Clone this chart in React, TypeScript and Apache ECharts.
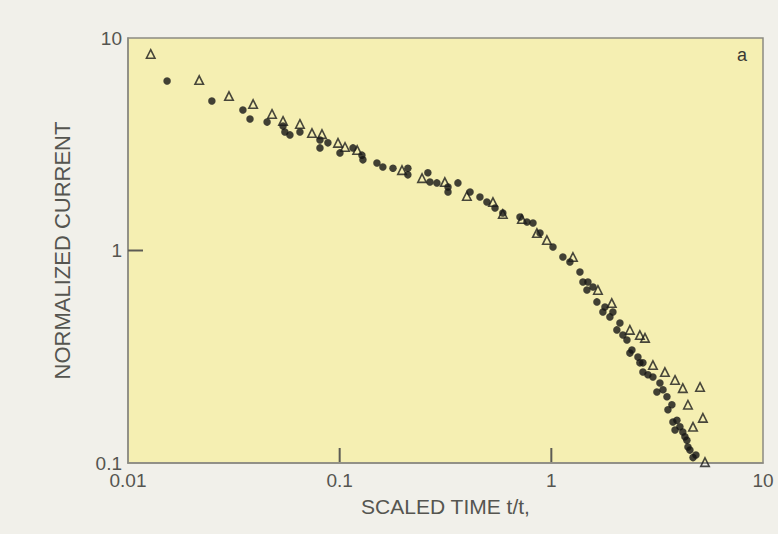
import React, { useEffect, useRef } from "react";
import * as echarts from "echarts";

// Open triangles
const triX = [0.0128, 0.0217, 0.0300, 0.0390, 0.0479, 0.0540, 0.0649, 0.0740, 0.0825, 0.0982, 0.106, 0.121, 0.197, 0.245, 0.314, 0.399, 0.530, 0.590, 0.726, 0.855, 0.953, 1.265, 1.66, 1.93, 2.35, 2.62, 2.77, 3.02, 3.44, 3.84, 4.18, 5.04, 4.42, 5.20, 4.67, 5.32];
const triY = [8.41, 6.34, 5.33, 4.89, 4.39, 4.07, 3.94, 3.57, 3.53, 3.21, 3.07, 2.97, 2.39, 2.19, 2.10, 1.805, 1.69, 1.485, 1.406, 1.208, 1.12, 0.932, 0.652, 0.566, 0.423, 0.400, 0.388, 0.289, 0.268, 0.246, 0.225, 0.228, 0.188, 0.163, 0.148, 0.101];

// Filled dots
const dotX = [0.0153, 0.0249, 0.0349, 0.0377, 0.0454, 0.0540, 0.0551, 0.0582, 0.0649, 0.0807, 0.0807, 0.0880, 0.1003, 0.1156, 0.1274, 0.1288, 0.150, 0.160, 0.1786, 0.210, 0.210, 0.261, 0.267, 0.288, 0.325, 0.325, 0.362, 0.413, 0.460, 0.496, 0.542, 0.590, 0.711, 0.767, 0.819, 0.884, 1.018, 1.134, 1.224, 1.365, 1.41, 1.489, 1.573, 1.473, 1.642, 1.792, 1.891, 1.954, 2.109, 2.178, 2.276, 2.403, 2.565, 2.708, 2.35, 2.62, 2.708, 3.02, 3.258, 3.37, 3.517, 3.555, 3.753, 3.92, 4.05, 4.277, 4.37, 4.42, 4.516, 4.67, 2.86, 3.153, 3.712, 4.18, 4.82, 3.84, 2.04, 1.752];
const dotY = [6.28, 5.05, 4.58, 4.16, 4.02, 3.85, 3.61, 3.50, 3.61, 3.31, 3.04, 3.21, 2.88, 3.04, 2.81, 2.67, 2.58, 2.47, 2.44, 2.44, 2.27, 2.32, 2.10, 2.08, 1.99, 1.885, 2.08, 1.885, 1.786, 1.69, 1.585, 1.50, 1.438, 1.362, 1.347, 1.208, 1.039, 0.932, 0.883, 0.792, 0.711, 0.711, 0.673, 0.652, 0.573, 0.542, 0.487, 0.514, 0.456, 0.400, 0.379, 0.340, 0.315, 0.296, 0.329, 0.296, 0.268, 0.254, 0.238, 0.221, 0.205, 0.178, 0.156, 0.159, 0.148, 0.133, 0.128, 0.119, 0.115, 0.106, 0.260, 0.216, 0.188, 0.140, 0.109, 0.143, 0.423, 0.514];

// Inner tick marks (the reference only marks these decades)
const xTicks = [0.1, 1];
const yTicks = [1];
const xMin = 0.01;
const xMax = 10;
const yMin = 0.1;
const yMax = 10;

const xTitle = "SCALED TIME t/t,";
const yTitle = "NORMALIZED CURRENT";
const panelLabel = "a";

const TEXT = "#555550";
const AXIS = "#8c8b82";
const TICK = "#5c5b54";
const FONT = "'Liberation Sans', Arial, Helvetica, sans-serif";
const TICK_LEN = 15;

export default function App() {
  const ref = useRef<HTMLDivElement>(null);
  useEffect(() => {
    document.body.style.margin = "0";
    const chart = echarts.init(ref.current!, null, { renderer: "svg" });
    const dots = dotX.map((x, i) => [x, dotY[i]]);
    const tris = triX.map((x, i) => [x, triY[i]]);
    chart.setOption({
      animation: false,
      backgroundColor: "#f1f0ea",
      textStyle: { fontFamily: FONT },
      grid: {
        left: 128,
        top: 38,
        right: 15,
        bottom: 71,
        show: true,
        backgroundColor: "#f5efb2",
        borderColor: AXIS,
        borderWidth: 1.5,
        containLabel: false,
        outerBoundsMode: "none",
      },
      xAxis: {
        type: "log",
        logBase: 10,
        min: xMin,
        max: xMax,
        name: xTitle,
        nameLocation: "middle",
        nameGap: 33,
        nameTextStyle: { color: TEXT, fontSize: 21, fontFamily: FONT },
        axisLine: { show: true, lineStyle: { color: AXIS, width: 1.5 } },
        axisTick: { show: false },
        minorTick: { show: false },
        splitLine: { show: false },
        axisLabel: { color: TEXT, fontSize: 19, margin: 8, fontFamily: FONT },
      },
      yAxis: {
        type: "log",
        logBase: 10,
        min: yMin,
        max: yMax,
        name: yTitle,
        nameLocation: "middle",
        nameGap: 55,
        nameRotate: 90,
        nameTextStyle: { color: TEXT, fontSize: 22, fontFamily: FONT },
        axisLine: { show: true, lineStyle: { color: AXIS, width: 1.5 } },
        axisTick: { show: false },
        minorTick: { show: false },
        splitLine: { show: false },
        axisLabel: { color: TEXT, fontSize: 19, margin: 6, fontFamily: FONT },
      },
      series: [
        {
          type: "scatter",
          data: dots,
          symbol: "circle",
          symbolSize: 7.5,
          z: 10,
          itemStyle: { color: "#141414" },
        },
        {
          type: "scatter",
          data: tris,
          symbol: "triangle",
          symbolSize: 8.5,
          z: 10,
          itemStyle: { color: "rgba(0,0,0,0)", borderColor: "#1c1c1c", borderWidth: 1.6 },
        },
      ],
    });

    // Tick marks placed through the chart's own scales
    const bottomY = chart.convertToPixel({ yAxisIndex: 0 }, yMin) as number;
    const leftX = chart.convertToPixel({ xAxisIndex: 0 }, xMin) as number;
    const lines: any[] = [];
    xTicks.forEach((v) => {
      const px = chart.convertToPixel({ xAxisIndex: 0 }, v) as number;
      lines.push({
        type: "line",
        shape: { x1: px, y1: bottomY - 1, x2: px, y2: bottomY - TICK_LEN },
        style: { stroke: TICK, lineWidth: 2 },
        z: 100,
        zlevel: 1,
      });
    });
    yTicks.forEach((v) => {
      const py = chart.convertToPixel({ yAxisIndex: 0 }, v) as number;
      lines.push({
        type: "line",
        shape: { x1: leftX, y1: py, x2: leftX + TICK_LEN, y2: py },
        style: { stroke: TICK, lineWidth: 2 },
        z: 100,
        zlevel: 1,
      });
    });
    const topRight = chart.convertToPixel({ gridIndex: 0 }, [xMax, yMax]) as number[];
    lines.push({
      type: "text",
      x: topRight[0] - 26,
      y: topRight[1] + 8,
      style: { text: panelLabel, fill: "#3a3a35", fontSize: 18, fontFamily: FONT },
      z: 100,
    });
    chart.setOption({ graphic: { elements: lines } });

    return () => chart.dispose();
  }, []);
  return <div ref={ref} style={{ width: 778, height: 534 }} />;
}
